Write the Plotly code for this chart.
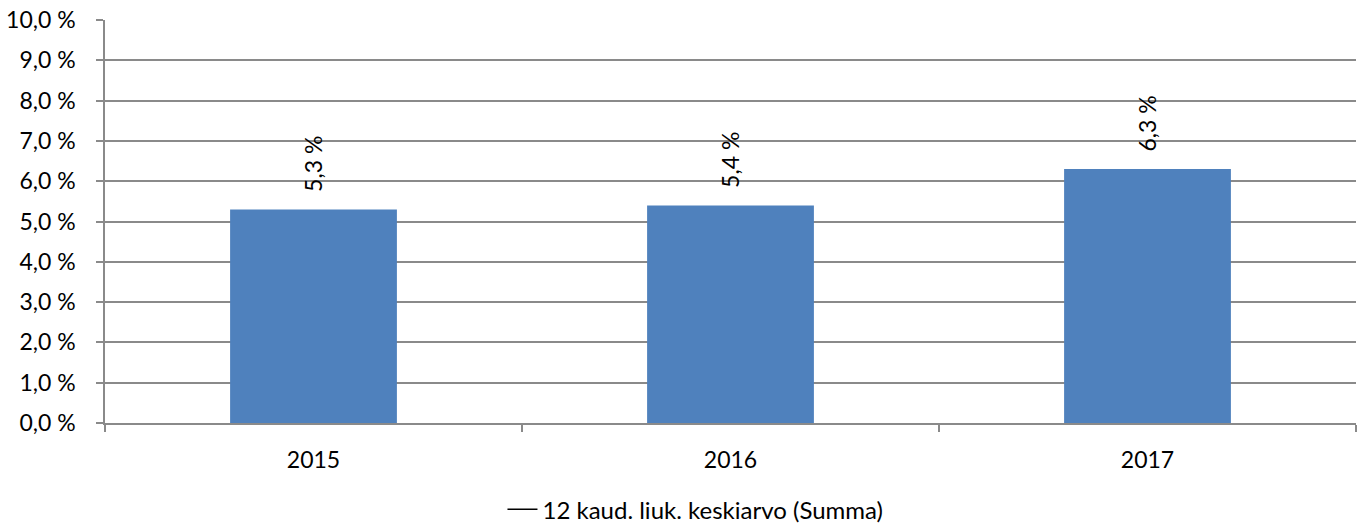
import plotly.graph_objects as go

years = ["2015", "2016", "2017"]
values = [5.3, 5.4, 6.3]
legend_name = "12 kaud. liuk. keskiarvo (Summa)"
y_ticks = [0, 1, 2, 3, 4, 5, 6, 7, 8, 9, 10]


def fmt(v):
    return f"{v:.1f}".replace(".", ",") + " %"


FONT = "Lato"
FS = 23
GRID = "#8a8a8a"
fig = go.Figure()
fig.add_trace(go.Bar(x=years, y=values, marker=dict(color="#4F81BD", line=dict(width=0)),
                     width=0.4, showlegend=False, hoverinfo="skip"))
fig.add_trace(go.Scatter(x=years, y=[None] * len(years), mode="lines", name=legend_name,
                         line=dict(color="black", width=1.5), showlegend=True,
                         hoverinfo="skip"))

for i, v in enumerate(values):
    fig.add_annotation(x=i, y=v, xref="x", yref="y", text=fmt(v),
                       textangle=-90, showarrow=False, yanchor="bottom", xanchor="center",
                       yshift=15, font=dict(family=FONT, size=FS, color="black"))

fig.update_layout(
    width=1362, height=526,
    margin=dict(l=105, r=6, t=20, b=103, autoexpand=False),
    paper_bgcolor="white", plot_bgcolor="white",
    font=dict(family=FONT, size=FS, color="black"),
    legend=dict(orientation="h", x=0.472, y=-0.215,
                xanchor="center", yanchor="middle", font=dict(size=24),
                bgcolor="rgba(0,0,0,0)"),
)
fig.update_xaxes(type="category", categoryorder="array", categoryarray=years,
                 range=[-0.5, len(years) - 0.5], automargin=False,
                 tickson="boundaries", ticks="outside", ticklen=7, tickwidth=1.5,
                 tickcolor=GRID, showline=True, linecolor=GRID, linewidth=1.5,
                 showgrid=False, ticklabelstandoff=16, tickangle=0)
fig.update_yaxes(range=[0, 10], tickvals=y_ticks, ticktext=[fmt(t) for t in y_ticks],
                 automargin=False,
                 ticks="outside", ticklen=7, tickwidth=1.5, tickcolor=GRID, showline=True,
                 linecolor=GRID, linewidth=1.5, showgrid=True, gridcolor=GRID,
                 gridwidth=1.5, zeroline=False, ticklabelstandoff=16)
fig.write_html("out.html", config={"displayModeBar": False},
               post_script="document.body.style.margin='0';document.body.style.overflow='hidden';")
